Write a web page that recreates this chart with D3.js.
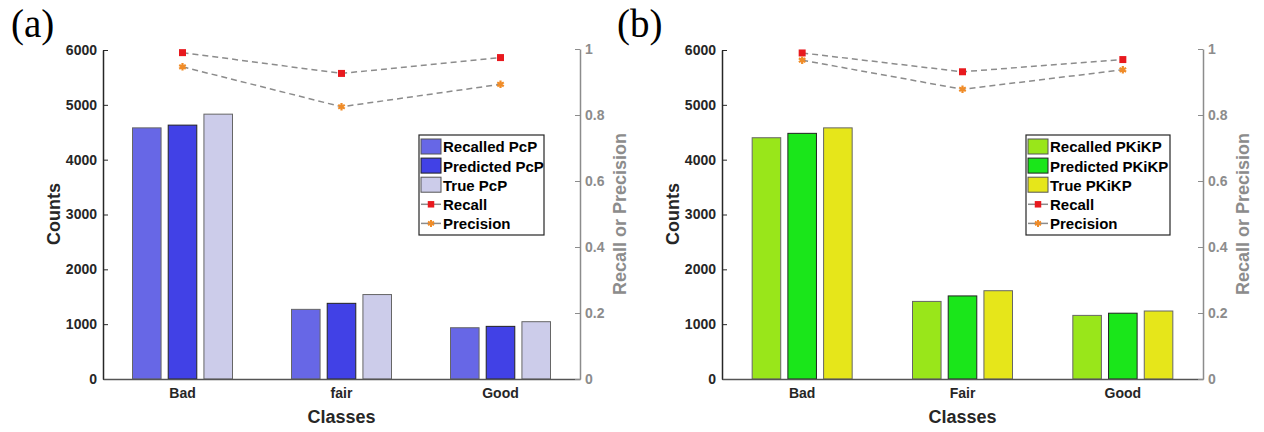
<!DOCTYPE html>
<html>
<head>
<meta charset="utf-8">
<script src="https://cdn.jsdelivr.net/npm/d3@7"></script>
<style>
  body { margin: 0; background: #fff; }
  svg { display: block; font-family: "Liberation Sans", Arial, sans-serif; }
</style>
</head>
<body>
<svg id="chart"></svg>
<script>
// values
const classesA = ["Bad", "fair", "Good"];
const classesB = ["Bad", "Fair", "Good"];

const recalledPcP  = [4580, 1270, 935];
const predictedPcP = [4630, 1380, 960];
const truePcP      = [4830, 1540, 1045];
const recallPcP    = [0.989, 0.926, 0.974];
const precisionPcP = [0.946, 0.825, 0.893];

const recalledPKiKP  = [4400, 1415, 1160];
const predictedPKiKP = [4480, 1515, 1200];
const truePKiKP      = [4580, 1610, 1240];
const recallPKiKP    = [0.988, 0.931, 0.968];
const precisionPKiKP = [0.966, 0.878, 0.937];

const countTicks = [0, 1000, 2000, 3000, 4000, 5000, 6000];
const rateTicks  = [0, 0.2, 0.4, 0.6, 0.8, 1];

let width = 1264, height = 432,
    yTop = 49, yBottom = 379;

let svg = d3.select("#chart")
            .attr("width", width)
            .attr("height", height);

function drawPanel(p) {
  let g = svg.append("g");

  let x0 = d3.scaleBand().domain(p.classes).range([p.left, p.right]),
      x1 = d3.scaleBand().domain([0, 1, 2]).range([-50, 50]).paddingInner(0.2),
      y  = d3.scaleLinear().domain([0, 6000]).range([yBottom, yTop + 1]),
      yr = d3.scaleLinear().domain([0, 1]).range([yBottom, yTop]);

  let rows = p.classes.map((c, i) => ({c, vals: p.bars.map(s => s[i])}));

  // bars
  g.selectAll("g.grp")
    .data(rows)
    .enter()
    .append("g")
    .attr("transform", d => `translate(${x0(d.c) + x0.bandwidth() / 2},0)`)
    .selectAll("rect")
    .data(d => d.vals)
    .enter()
    .append("rect")
    .attr("x", (d, i) => x1(i))
    .attr("width", x1.bandwidth())
    .attr("y", d => y(d))
    .attr("height", d => yBottom - y(d))
    .attr("fill", (d, i) => p.colors[i])
    .attr("stroke", (d, i) => i == 1 ? "#222" : "#666")
    .attr("stroke-width", 1);

  // left axis
  g.append("g")
    .attr("transform", `translate(${p.left},0)`)
    .attr("color", "#262626")
    .call(d3.axisLeft(y).tickValues(countTicks).tickFormat(d3.format("d"))
            .tickSizeInner(-5).tickSizeOuter(0).tickPadding(6))
    .call(a => a.select(".domain").attr("stroke-width", 1.5))
    .selectAll("text")
    .style("font-size", "14px").style("font-weight", "bold");

  // bottom axis
  g.append("g")
    .attr("transform", `translate(0,${yBottom})`)
    .attr("color", "#262626")
    .call(d3.axisBottom(x0).tickSize(0).tickPadding(9))
    .call(a => a.select(".domain").attr("stroke", "#555").attr("stroke-width", 1.5))
    .selectAll("text")
    .style("font-size", "14px").style("font-weight", "bold");

  // right axis
  g.append("g")
    .attr("transform", `translate(${p.right},0)`)
    .attr("color", "#8c8c8c")
    .call(d3.axisRight(yr).tickValues(rateTicks).tickFormat(d3.format("~g"))
            .tickSizeInner(-5).tickSizeOuter(0).tickPadding(5))
    .call(a => a.select(".domain").attr("stroke-width", 1.5))
    .selectAll("text")
    .style("font-size", "14px").style("font-weight", "bold");

  // recall / precision lines
  let cx = c => x0(c) + x0.bandwidth() / 2;
  let line = d3.line().x((d, i) => cx(p.classes[i])).y(d => yr(d));
  [p.recall, p.precision].forEach(s => {
    g.append("path")
      .datum(s)
      .attr("d", line)
      .attr("fill", "none")
      .attr("stroke", "#8c8c8c")
      .attr("stroke-width", 1.5)
      .attr("stroke-dasharray", "6,4");
  });
  g.selectAll("path.rec")
    .data(p.recall)
    .enter()
    .append("path")
    .attr("transform", (d, i) => `translate(${cx(p.classes[i])},${yr(d)})`)
    .attr("d", d3.symbol(d3.symbolSquare, 49))
    .attr("fill", "#e8191e");
  g.selectAll("path.pre")
    .data(p.precision)
    .enter()
    .append("path")
    .attr("transform", (d, i) => `translate(${cx(p.classes[i])},${yr(d)})`)
    .attr("d", d3.symbol(d3.symbolAsterisk, 40))
    .attr("fill", "none")
    .attr("stroke", "#f08c28")
    .attr("stroke-width", 2.2);

  // axis titles
  g.append("text")
    .attr("transform", `translate(${p.left - 43},${(yTop + yBottom) / 2}) rotate(-90)`)
    .attr("text-anchor", "middle")
    .style("font-size", "18px").style("font-weight", "bold")
    .attr("fill", "#262626")
    .text("Counts");
  g.append("text")
    .attr("transform", `translate(${p.right + 46},${(yTop + yBottom) / 2}) rotate(-90)`)
    .attr("text-anchor", "middle")
    .style("font-size", "18px").style("font-weight", "bold")
    .attr("fill", "#8c8c8c")
    .text("Recall or Precision");
  g.append("text")
    .attr("x", (p.left + p.right) / 2)
    .attr("y", 423)
    .attr("text-anchor", "middle")
    .style("font-size", "18px").style("font-weight", "bold")
    .attr("fill", "#262626")
    .text("Classes");

  // panel tag
  g.append("text")
    .attr("x", p.tagX)
    .attr("y", 37)
    .style("font-family", "'Liberation Serif', 'Times New Roman', serif")
    .style("font-size", "39px")
    .attr("fill", "#000")
    .text(p.tag);

  // legend
  let lg = g.append("g").attr("transform", `translate(${p.legX},135)`);
  lg.append("rect")
    .attr("width", p.legW).attr("height", 100)
    .attr("fill", "#fff").attr("stroke", "#262626").attr("stroke-width", 1.2);
  let items = p.names.map((n, i) => ({n, i}));
  let rowY = i => 12 + i * 19.1;
  let it = lg.selectAll("g.item")
    .data(items)
    .enter()
    .append("g")
    .attr("transform", d => `translate(2,${rowY(d.i)})`);
  it.filter(d => d.i < 3)
    .append("rect")
    .attr("x", 0).attr("y", -8).attr("width", 20).attr("height", 15)
    .attr("fill", d => p.colors[d.i])
    .attr("stroke", d => d.i == 1 ? "#222" : "#555");
  it.filter(d => d.i >= 3)
    .append("line")
    .attr("x1", 0).attr("x2", 20)
    .attr("stroke", "#8c8c8c").attr("stroke-width", 1.5);
  it.filter(d => d.i == 3)
    .append("path")
    .attr("transform", "translate(10,0)")
    .attr("d", d3.symbol(d3.symbolSquare, 42))
    .attr("fill", "#e8191e");
  it.filter(d => d.i == 4)
    .append("path")
    .attr("transform", "translate(10,0)")
    .attr("d", d3.symbol(d3.symbolAsterisk, 34))
    .attr("fill", "none").attr("stroke", "#f08c28").attr("stroke-width", 2);
  it.append("text")
    .attr("x", 22).attr("dy", "0.36em")
    .style("font-size", "15px").style("font-weight", "bold")
    .attr("fill", "#000")
    .text(d => d.n);
}

drawPanel({
  classes: classesA, left: 103, right: 580, tag: "(a)", tagX: 11,
  bars: [recalledPcP, predictedPcP, truePcP],
  recall: recallPcP, precision: precisionPcP,
  colors: ["#6767e6", "#4141e6", "#ccccea"],
  names: ["Recalled PcP", "Predicted PcP", "True PcP", "Recall", "Precision"],
  legX: 419, legW: 125
});

drawPanel({
  classes: classesB, left: 722, right: 1203, tag: "(b)", tagX: 617,
  bars: [recalledPKiKP, predictedPKiKP, truePKiKP],
  recall: recallPKiKP, precision: precisionPKiKP,
  colors: ["#99e61a", "#1ae61a", "#e6e61a"],
  names: ["Recalled PKiKP", "Predicted PKiKP", "True PKiKP", "Recall", "Precision"],
  legX: 1026, legW: 144
});
</script>
</body>
</html>
